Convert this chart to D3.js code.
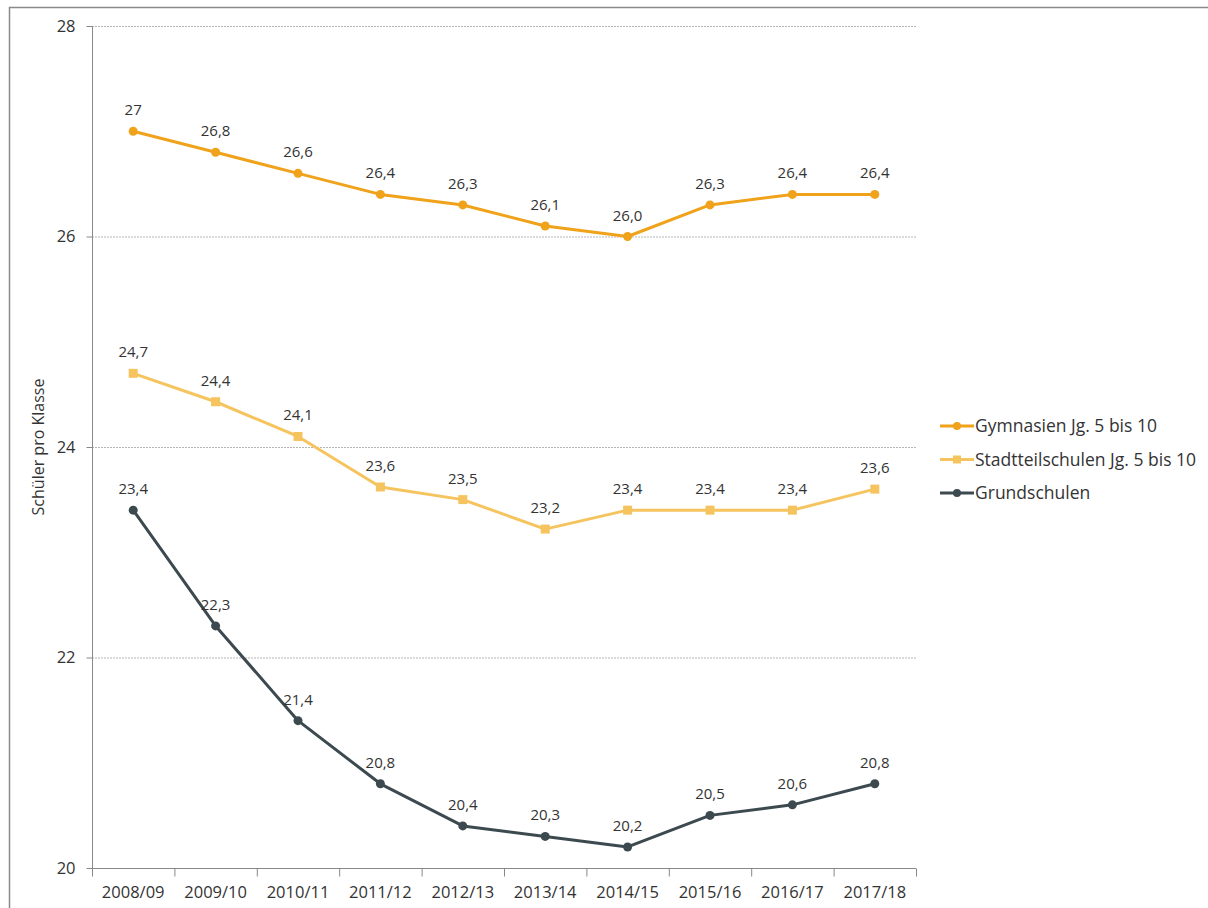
<!DOCTYPE html>
<html><head><meta charset="utf-8">
<script src="https://cdn.jsdelivr.net/npm/d3@7"></script>
<style>
body{margin:0;background:#fff;}
svg text{font-family:"Open Sans","Noto Sans",sans-serif;}
</style></head><body>
<svg id="c" width="1208" height="908"></svg>
<script>
const categories = ["2008/09","2009/10","2010/11","2011/12","2012/13","2013/14","2014/15","2015/16","2016/17","2017/18"];
const gymnasien = [27.0,26.8,26.6,26.4,26.3,26.1,26.0,26.3,26.4,26.4];
const gymnasienLabels = ["27","26,8","26,6","26,4","26,3","26,1","26,0","26,3","26,4","26,4"];
const stadtteil = [24.7,24.43,24.1,23.62,23.5,23.22,23.4,23.4,23.4,23.6];
const stadtteilLabels = ["24,7","24,4","24,1","23,6","23,5","23,2","23,4","23,4","23,4","23,6"];
const grund = [23.4,22.3,21.4,20.8,20.4,20.3,20.2,20.5,20.6,20.8];
const grundLabels = ["23,4","22,3","21,4","20,8","20,4","20,3","20,2","20,5","20,6","20,8"];
const yTicks = [20,22,24,26,28];
const seriesNames = ["Gymnasien Jg. 5 bis 10","Stadtteilschulen Jg. 5 bis 10","Grundschulen"];
const colors = ["#EFA21A","#F6C45E","#3C4A50"];
const yTitle = "Schüler pro Klasse";

const svg = d3.select("#c");
// outer frame
svg.append("rect").attr("x",9.5).attr("y",7.5).attr("width",1220).attr("height",920)
  .attr("fill","#fff").attr("stroke","#8a8a8a").attr("stroke-width",1.5);

const x = d3.scaleBand().domain(categories).range([92,916]);
const y = d3.scaleLinear().domain([20,28]).range([868,26]);

// gridlines
svg.append("g").selectAll("line").data(yTicks.filter(t=>t>20)).join("line")
  .attr("x1",92).attr("x2",916).attr("y1",d=>y(d)+0.5).attr("y2",d=>y(d)+0.5)
  .attr("stroke","#b5b5b5").attr("stroke-dasharray","2,1").attr("stroke-width",1);

// y axis
const ya = svg.append("g").attr("transform","translate(92.5,0)")
  .call(d3.axisLeft(y).tickValues(yTicks).tickSize(6).tickPadding(11).tickFormat(d3.format("d")));
ya.selectAll("path,line").attr("stroke","#888");
ya.selectAll("text").attr("font-size",16.5).attr("fill","#333").attr("font-family","Open Sans, sans-serif");
ya.select(".domain").attr("d","M0,"+y(28)+"V"+y(20));

// x axis
const xa = svg.append("g").attr("transform","translate(0,"+(y(20)+0.5)+")")
  .call(d3.axisBottom(x).tickSize(0).tickPadding(18));
xa.selectAll("path").attr("stroke","#888");
xa.selectAll("text").attr("font-size",16.5).attr("fill","#333").attr("font-family","Open Sans, sans-serif");
xa.select(".domain").attr("d","M92,0H916");
xa.append("g").selectAll("line").data(d3.range(categories.length+1)).join("line")
  .attr("x1",i=>92+i*x.step()+0.5).attr("x2",i=>92+i*x.step()+0.5)
  .attr("y1",0).attr("y2",8).attr("stroke","#888");

// y title
svg.append("text").attr("transform","translate(44,"+y(24)+") rotate(-90)")
  .attr("text-anchor","middle").attr("font-size",16).attr("fill","#333").text(yTitle);

const cx = c => x(c)+x.bandwidth()/2;
const data = [gymnasien, stadtteil, grund];
const labels = [gymnasienLabels, stadtteilLabels, grundLabels];
const line = d3.line().x((d,i)=>cx(categories[i])).y(d=>y(d));

data.forEach((vals,s)=>{
  const g = svg.append("g");
  g.append("path").datum(vals).attr("d",line).attr("fill","none")
    .attr("stroke",colors[s]).attr("stroke-width",3).attr("stroke-linejoin","round");
  if(s===1){
    g.selectAll("rect").data(vals).join("rect")
      .attr("x",(d,i)=>cx(categories[i])-4.5).attr("y",d=>y(d)-4.5)
      .attr("width",9).attr("height",9).attr("fill",colors[s]);
  } else {
    g.selectAll("circle").data(vals).join("circle")
      .attr("cx",(d,i)=>cx(categories[i])).attr("cy",d=>y(d)).attr("r",4.5).attr("fill",colors[s]);
  }
  g.selectAll("text").data(vals).join("text")
    .attr("x",(d,i)=>cx(categories[i])).attr("y",d=>y(d)-16)
    .attr("text-anchor","middle").attr("font-size",15).attr("fill","#333")
    .text((d,i)=>labels[s][i]);
});

// legend
const lg = svg.append("g");
seriesNames.forEach((n,i)=>{
  const yy = 426 + i*33.5;
  lg.append("line").attr("x1",940).attr("x2",974).attr("y1",yy).attr("y2",yy)
    .attr("stroke",colors[i]).attr("stroke-width",3);
  if(i===1){
    lg.append("rect").attr("x",953).attr("y",yy-4).attr("width",8).attr("height",8).attr("fill",colors[i]);
  } else {
    lg.append("circle").attr("cx",957).attr("cy",yy).attr("r",4).attr("fill",colors[i]);
  }
  lg.append("text").attr("x",975).attr("y",yy+6).attr("font-size",17.5).attr("fill","#333").text(n);
});
</script>
</body></html>
